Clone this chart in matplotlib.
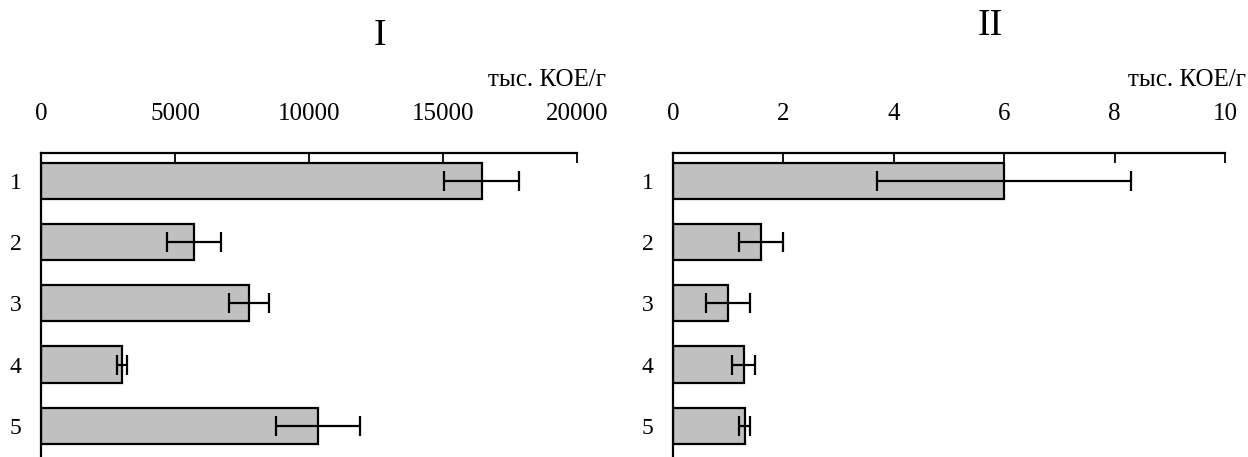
import matplotlib
matplotlib.use("Agg")
import matplotlib.pyplot as plt

plt.rcParams['font.family'] = ['Liberation Serif', 'DejaVu Serif']

categories = ["1", "2", "3", "4", "5"]
values_I = [16450, 5700, 7760, 3020, 10330]
err_I = [1400, 1000, 730, 200, 1570]
values_II = [6.0, 1.6, 1.0, 1.28, 1.3]
err_II = [2.3, 0.4, 0.4, 0.21, 0.1]
ticks_I = [0, 5000, 10000, 15000, 20000]
ticks_II = [0, 2, 4, 6, 8, 10]
unit_label = "тыс. КОЕ/г"
titles = ["I", "II"]

fig = plt.figure(figsize=(12.48, 4.57), dpi=100)
axI = fig.add_axes([41/1248, 0.0, 536/1248, 1 - 153/457])
axII = fig.add_axes([673/1248, 0.0, 552/1248, 1 - 153/457])

panels = [
    (axI, values_I, err_I, ticks_I, (0, 20000), titles[0], (380/1248, 1 - 36/457), 606),
    (axII, values_II, err_II, ticks_II, (0, 10), titles[1], (990/1248, 1 - 26/457), 1246),
]

ypos = list(range(1, len(categories) + 1))
for ax, vals, errs, ticks, xlim, title, tpos, unit_x in panels:
    ax.barh(ypos, vals, height=0.59, color='#C0C0C0', edgecolor='black', linewidth=1.6,
            xerr=errs, error_kw=dict(ecolor='black', elinewidth=1.6, capsize=7, capthick=1.6))
    ax.set_xlim(*xlim)
    ax.set_ylim(5.51, 0.545)
    ax.set_yticks(ypos)
    ax.set_yticklabels(categories, fontsize=17)
    ax.tick_params(axis='y', length=0, pad=14)
    ax.xaxis.tick_top()
    ax.set_xticks(ticks)
    ax.set_xticklabels([str(t) for t in ticks], fontsize=18)
    ax.tick_params(axis='x', direction='in', length=7, width=1.3, pad=20)
    for s in ['right', 'bottom']:
        ax.spines[s].set_visible(False)
    for s in ['top', 'left']:
        ax.spines[s].set_linewidth(1.6)
    fig.text(unit_x/1248, 1 - 80/457, unit_label, ha='right', va='center', fontsize=18)
    fig.text(tpos[0], tpos[1], title, ha='center', va='center', fontsize=27)

fig.savefig("out.png", dpi=100)
